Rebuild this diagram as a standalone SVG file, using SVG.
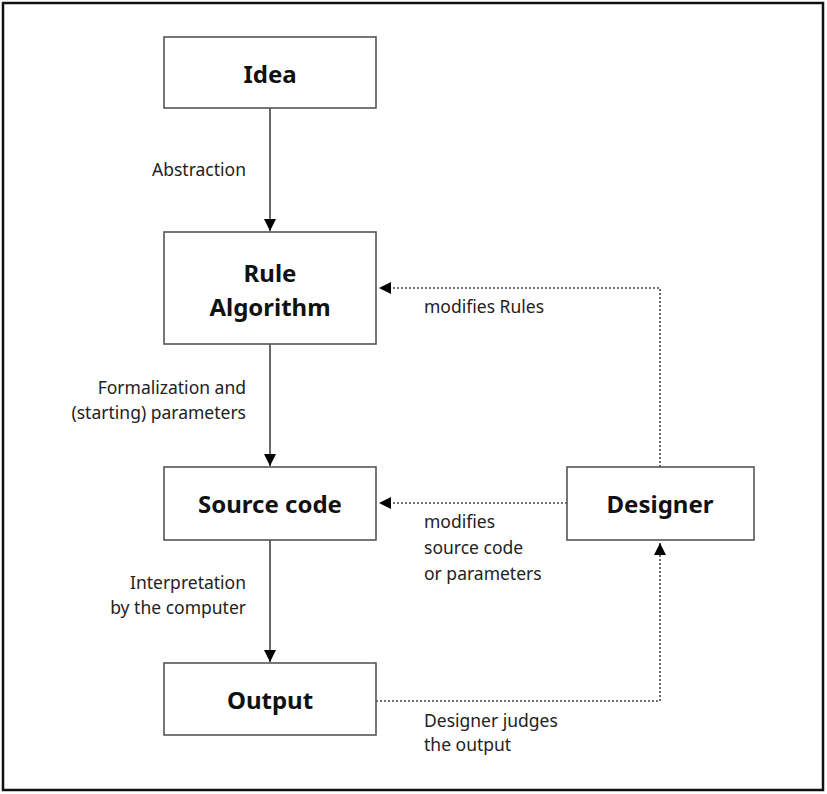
<svg xmlns="http://www.w3.org/2000/svg" width="827" height="794" viewBox="0 0 827 794">
<defs>
<style>
.box{fill:#fff;stroke:#555;stroke-width:1.6}
.nt{font-family:"Noto Sans","Open Sans",sans-serif;font-weight:bold;font-size:24px;fill:#111;text-anchor:middle}
.lb{font-family:"Noto Sans","Open Sans",sans-serif;font-size:17.5px;fill:#222}
.r{text-anchor:end}
.solid{stroke:#444;stroke-width:1.6;fill:none}
.dot{stroke:#444;stroke-width:1.6;fill:none;stroke-dasharray:2 2}
</style>
<marker id="ah2" viewBox="0 0 10 10" refX="10" refY="5" markerWidth="12" markerHeight="12" markerUnits="userSpaceOnUse" orient="auto">
<path d="M0,0 L10,5 L0,10 Z" fill="#000"/>
</marker>
</defs>
<rect x="0" y="0" width="827" height="794" fill="#fff"/>
<rect x="3" y="3" width="820" height="787" fill="none" stroke="#111" stroke-width="2.5"/>
<g id="connectors">
<line class="solid" x1="270" y1="108" x2="270" y2="231" marker-end="url(#ah2)"/>
<line class="solid" x1="270" y1="344" x2="270" y2="466" marker-end="url(#ah2)"/>
<line class="solid" x1="270" y1="540" x2="270" y2="662" marker-end="url(#ah2)"/>
<polyline class="dot" points="660,467 660,288 379,288" marker-end="url(#ah2)"/>
<line class="dot" x1="567" y1="503" x2="379" y2="503" marker-end="url(#ah2)"/>
<polyline class="dot" points="376,701 660,701 660,543" marker-end="url(#ah2)"/>
</g>
<g id="idea"><rect class="box" x="164" y="37" width="212" height="71"/><text class="nt" x="270" y="83">Idea</text></g>
<g id="rule"><rect class="box" x="164" y="232" width="212" height="112"/><text class="nt" x="270" y="282">Rule</text><text class="nt" x="270" y="316">Algorithm</text></g>
<g id="source"><rect class="box" x="164" y="467" width="212" height="73"/><text class="nt" x="270" y="513">Source code</text></g>
<g id="output"><rect class="box" x="164" y="663" width="212" height="72"/><text class="nt" x="270" y="709">Output</text></g>
<g id="designer"><rect class="box" x="567" y="467" width="187" height="73"/><text class="nt" x="660" y="513">Designer</text></g>
<g id="labels">
<text class="lb r" x="246" y="176">Abstraction</text>
<text class="lb r" x="246" y="394">Formalization and</text>
<text class="lb r" x="246" y="419">(starting) parameters</text>
<text class="lb r" x="246" y="589">Interpretation</text>
<text class="lb r" x="246" y="614">by the computer</text>
<text class="lb" x="424" y="313">modifies Rules</text>
<text class="lb" x="424" y="528">modifies</text>
<text class="lb" x="424" y="554">source code</text>
<text class="lb" x="424" y="580">or parameters</text>
<text class="lb" x="424" y="727">Designer judges</text>
<text class="lb" x="424" y="751">the output</text>
</g>
</svg>
